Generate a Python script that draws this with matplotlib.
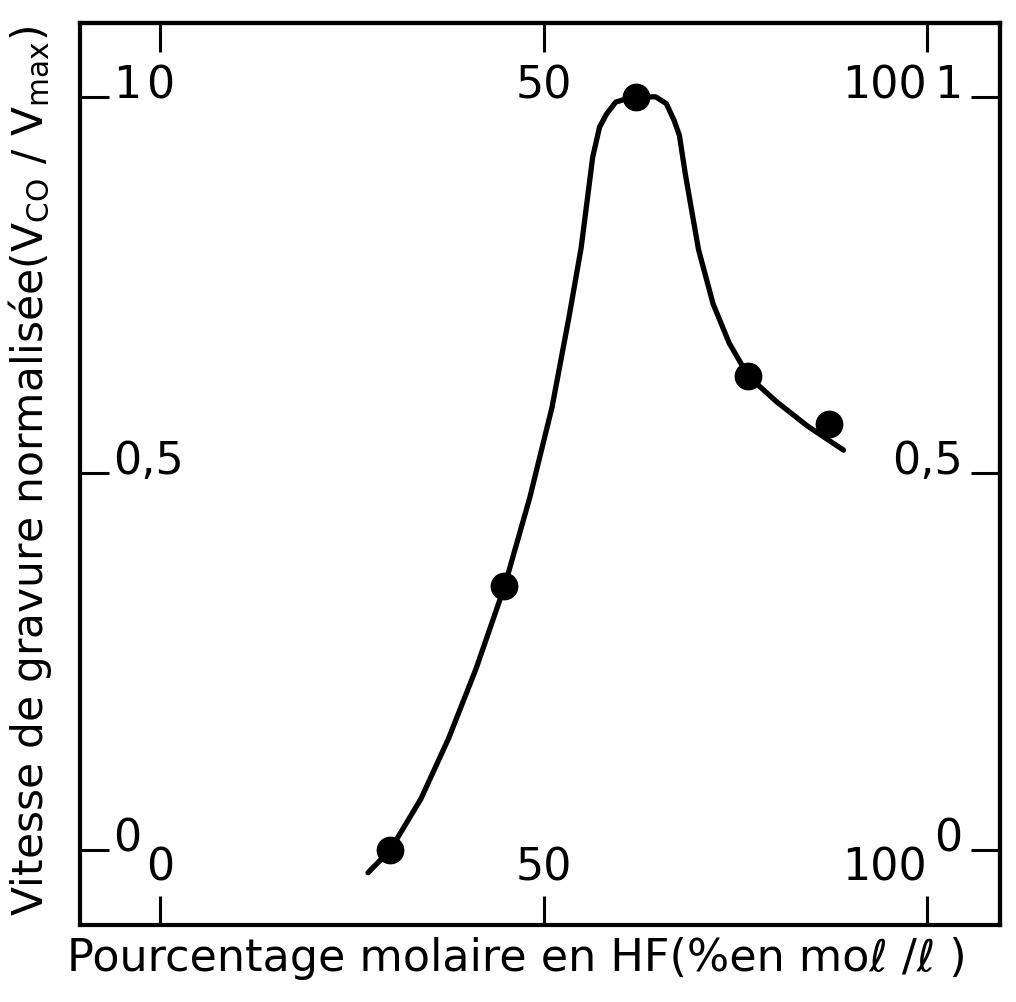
import matplotlib
matplotlib.use("Agg")
import matplotlib.pyplot as plt

# ---- data ----
point_x = [30.0, 44.9, 62.0, 76.7, 87.2]
point_y = [0.0, 0.35, 1.0, 0.63, 0.566]

curve_x = [27.1, 30.0, 34.0, 37.6, 41.2, 44.9, 48.2, 51.1, 53.3, 54.9, 55.9,
           56.4, 57.3, 58.2, 59.4, 60.7, 62.0, 64.6, 66.0, 67.0, 67.7, 68.5,
           70.2, 72.1, 74.2, 76.7, 80.4, 84.4, 89.1]
curve_y = [-0.03, 0.0, 0.068, 0.148, 0.241, 0.35, 0.468, 0.588, 0.707, 0.80,
           0.88, 0.92, 0.96, 0.977, 0.993, 0.997, 1.0, 1.0, 0.991, 0.969,
           0.949, 0.896, 0.797, 0.725, 0.673, 0.629, 0.595, 0.563, 0.531]

x_ticks = [0, 50, 100]
x_tick_labels = ["0", "50", "100"]
y_ticks = [0, 0.5, 1]
y_tick_labels = ["0", "0,5", "1"]

x_label = "Pourcentage molaire en HF(%en mo\u2113 /\u2113 )"
y_label = r"Vitesse de gravure normalisée(V$_{\mathregular{CO}}$ / V$_{\mathregular{max}}$)"

plt.rcParams['font.family'] = ['DejaVu Sans']

fig = plt.figure(figsize=(10.16, 10.03), dpi=100)
ax = fig.add_axes([80 / 1016, (1003 - 926) / 1003, 920 / 1016, 902 / 1003])

ax.plot(curve_x, curve_y, color='black', lw=3.8, solid_joinstyle='round',
        solid_capstyle='round', zorder=2)
ax.plot(point_x, point_y, 'o', color='black', ms=19, zorder=3)

ax.set_xlim(-10.44, 109.5)
ax.set_ylim(-0.0994, 1.098)

for sp in ax.spines.values():
    sp.set_linewidth(3.0)
    sp.set_color('black')

tick_len = 21
tick_w = 2.2
lab_size = 32

# bottom / left
ax.set_xticks(x_ticks)
ax.set_xticklabels(x_tick_labels)
ax.set_yticks(y_ticks)
ax.set_yticklabels(y_tick_labels)
ax.tick_params(axis='x', direction='in', length=tick_len, width=tick_w,
               labelsize=lab_size, pad=-33)
ax.tick_params(axis='y', direction='in', length=tick_len, width=tick_w,
               labelsize=lab_size, pad=-24)
for lbl in ax.get_xticklabels():
    lbl.set_verticalalignment('baseline')
    if lbl.get_text() == "100":
        lbl.set_horizontalalignment('right')
for lbl in ax.get_yticklabels():
    lbl.set_horizontalalignment('left')
    lbl.set_verticalalignment('baseline')

# top / right
secx = ax.secondary_xaxis('top')
secx.set_xticks(x_ticks)
secx.set_xticklabels(x_tick_labels)
secx.tick_params(axis='x', direction='in', length=tick_len, width=tick_w,
                 labelsize=lab_size, pad=-29)
secx.spines['top'].set_linewidth(3.0)
for lbl in secx.get_xticklabels():
    lbl.set_verticalalignment('top')
    if lbl.get_text() == "100":
        lbl.set_horizontalalignment('right')

secy = ax.secondary_yaxis('right')
secy.set_yticks(y_ticks)
secy.set_yticklabels(y_tick_labels)
secy.tick_params(axis='y', direction='in', length=tick_len, width=tick_w,
                 labelsize=lab_size, pad=-27)
secy.spines['right'].set_linewidth(3.0)
for lbl in secy.get_yticklabels():
    lbl.set_horizontalalignment('right')
    lbl.set_verticalalignment('baseline')

ax.set_xlabel(x_label, fontsize=32)
ax.xaxis.set_label_coords(0.475, -0.012)
ax.xaxis.label.set_verticalalignment('top')
ax.set_ylabel(y_label, fontsize=30.5)
ax.yaxis.set_label_coords(-0.054, 0.505)
ax.yaxis.label.set_verticalalignment('center')

fig.savefig("out.png", dpi=100, facecolor='white')
